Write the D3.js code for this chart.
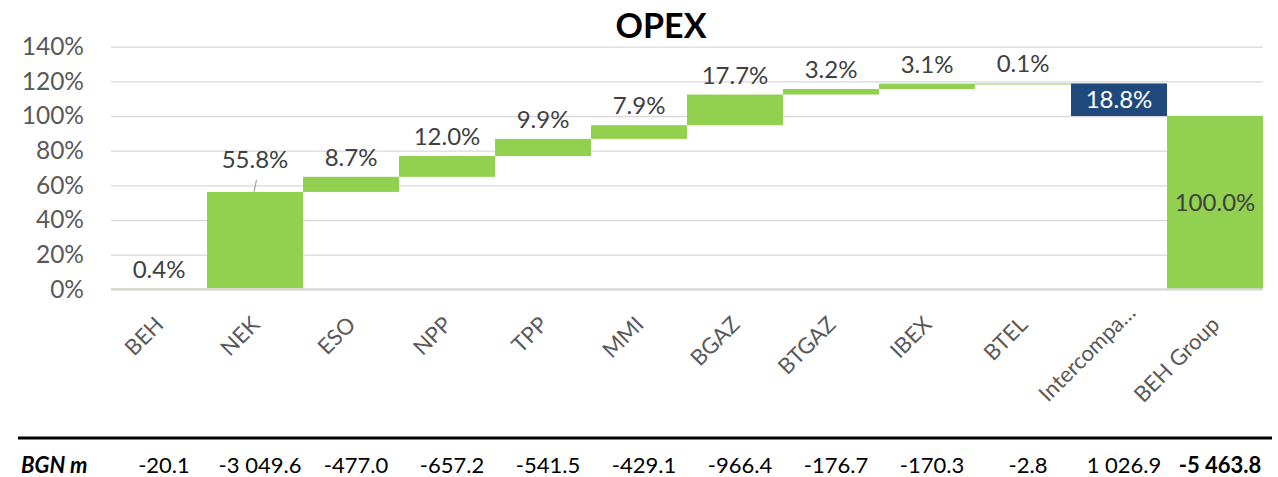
<!DOCTYPE html>
<html>
<head>
<meta charset="utf-8">
<script src="https://cdn.jsdelivr.net/npm/d3@7/dist/d3.min.js"></script>
<style>
  html, body { margin: 0; padding: 0; background: #fff; }
  svg { display: block; }
</style>
</head>
<body>
<script>
// chart data
const categories = ['BEH', 'NEK', 'ESO', 'NPP', 'TPP', 'MMI', 'BGAZ', 'BTGAZ', 'IBEX', 'BTEL', 'Intercompa…', 'BEH Group']
const shares = [0.4, 55.8, 8.7, 12.0, 9.9, 7.9, 17.7, 3.2, 3.1, 0.1, -18.8, 100.0]
const kinds = ['up', 'up', 'up', 'up', 'up', 'up', 'up', 'up', 'up', 'up', 'down', 'total']
const bgnValues = ['-20.1', '-3 049.6', '-477.0', '-657.2', '-541.5', '-429.1', '-966.4', '-176.7', '-170.3', '-2.8', '1 026.9', '-5 463.8']
const yTicks = [0, 20, 40, 60, 80, 100, 120, 140]

const width = 1278
const height = 477
const fontFamily = 'Lato, "Open Sans", sans-serif'
const green = '#92D050'
const blue = '#1F497D'
const labelGrey = '#404040'
const axisGrey = '#595959'

const svg = d3.select('body').append('svg')
  .attr('width', width).attr('height', height)

const x = d3.scaleBand().domain(categories).range([111, 1263]).padding(0)
const y = d3.scaleLinear().domain([0, 140]).range([289.3, 46.7])

// waterfall steps
let cum = 0
const steps = categories.map((c, i) => {
  let start, end
  if (kinds[i] === 'total') {
    start = 0
    end = shares[i]
  } else {
    start = cum
    end = cum + shares[i]
  }
  cum = end
  return { cat: c, value: shares[i], kind: kinds[i], start, end }
})

// gridlines + y labels
const yAxis = d3.axisLeft(y).tickValues(yTicks).tickFormat(d => d + '%')
  .tickSize(-(1263 - 111)).tickPadding(27)
const gy = svg.append('g').attr('transform', 'translate(111,0)').call(yAxis)
gy.select('.domain').remove()
gy.selectAll('.tick line').attr('stroke', '#D9D9D9').attr('stroke-width', 1.3)
gy.selectAll('.tick text')
  .attr('font-family', fontFamily).attr('font-size', 24.5).attr('fill', axisGrey)

// title
svg.append('text')
  .attr('x', 661).attr('y', 38)
  .attr('text-anchor', 'middle')
  .attr('font-family', fontFamily).attr('font-size', 34).attr('font-weight', 'bold')
  .attr('fill', '#000')
  .text('OPEX')

// bars
svg.append('g').selectAll('rect').data(steps).join('rect')
  .attr('x', d => x(d.cat))
  .attr('width', x.bandwidth())
  .attr('y', d => y(Math.max(d.start, d.end)))
  .attr('height', d => Math.max(1, Math.abs(y(d.start) - y(d.end))))
  .attr('fill', d => d.kind === 'down' ? blue : green)

// zero axis line sits over the bars
svg.append('line')
  .attr('x1', 111).attr('x2', 1263).attr('y1', y(0)).attr('y2', y(0))
  .attr('stroke', '#D9D9D9').attr('stroke-width', 2.2)

// data labels
const fmt = d => Math.abs(d).toFixed(1) + '%'
const liftedLabel = { NEK: 24 }
const labels = svg.append('g')
steps.forEach(d => {
  const cx = x(d.cat) + x.bandwidth() / 2
  const top = y(Math.max(d.start, d.end))
  let ty, fill
  if (d.kind === 'up') {
    const gap = liftedLabel[d.cat] || 11
    ty = top - gap
    fill = labelGrey
    if (liftedLabel[d.cat]) {
      labels.append('line')
        .attr('x1', cx + 1.5).attr('y1', ty + 12)
        .attr('x2', cx - 1).attr('y2', top)
        .attr('stroke', '#A6A6A6').attr('stroke-width', 1.2)
    }
  } else {
    ty = (y(d.start) + y(d.end)) / 2 + 8.5
    fill = d.kind === 'down' ? '#fff' : labelGrey
  }
  labels.append('text')
    .attr('x', cx).attr('y', ty)
    .attr('text-anchor', 'middle')
    .attr('font-family', fontFamily).attr('font-size', 24)
    .attr('fill', fill)
    .text(fmt(d.value))
})

// category labels (truncated ones sit a bit further along)
svg.append('g').selectAll('text').data(categories).join('text')
  .attr('transform', d => {
    const shift = d.endsWith('…') ? 12 : 0
    return `translate(${x(d) + x.bandwidth() / 2 + 6 + shift},${326 - shift}) rotate(-45)`
  })
  .attr('text-anchor', 'end')
  .attr('font-family', fontFamily).attr('font-size', 22).attr('fill', axisGrey)
  .text(d => d)

// BGN table
svg.append('line')
  .attr('x1', 18).attr('x2', 1272).attr('y1', 438).attr('y2', 438)
  .attr('stroke', '#000').attr('stroke-width', 3)

svg.append('text')
  .attr('x', 21).attr('y', 473)
  .attr('font-family', fontFamily).attr('font-size', 22)
  .attr('font-weight', 'bold').attr('font-style', 'italic')
  .text('BGN m')

svg.append('g').selectAll('text').data(bgnValues).join('text')
  .attr('x', (d, i) => x(categories[i]) + x.bandwidth() / 2 + 5)
  .attr('y', 473)
  .attr('text-anchor', 'middle')
  .attr('font-family', fontFamily).attr('font-size', 22)
  .attr('font-weight', (d, i) => kinds[i] === 'total' ? 'bold' : 'normal')
  .attr('fill', '#000')
  .text(d => d)
</script>
</body>
</html>
